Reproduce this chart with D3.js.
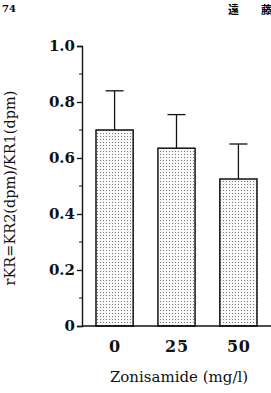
<!DOCTYPE html>
<html>
<head>
<meta charset="utf-8">
<script src="https://cdn.jsdelivr.net/npm/d3@7"></script>
<style>
  body { margin: 0; background: #fff; }
  svg { display: block; }
  text { font-family: 'DejaVu Serif', serif; }
  .tick text { font-weight: bold; font-size: 15px; fill: #111; }
  .xaxis .tick text { font-size: 16px; letter-spacing: 0.8px; }
</style>
</head>
<body>
<svg></svg>
<script>
// chart values
const doses = ['0', '25', '50']
const means = [0.70, 0.635, 0.525]
const sds = [0.14, 0.12, 0.125]
const yTicks = [0, 0.2, 0.4, 0.6, 0.8, 1.0]
const yMinor = [0.1, 0.3, 0.5, 0.7, 0.9]

const serif = "'DejaVu Serif', serif"

const svg = d3.select('svg')
  .attr('width', 271)
  .attr('height', 393)

// dotted fill for the bars
const defs = svg.append('defs')
const pat = defs.append('pattern')
  .attr('id', 'dots')
  .attr('patternUnits', 'userSpaceOnUse')
  .attr('width', 3)
  .attr('height', 3)
pat.append('rect').attr('width', 3).attr('height', 3).attr('fill', '#fafafa')
pat.append('rect').attr('x', 1).attr('y', 1).attr('width', 1).attr('height', 1).attr('fill', '#777')

const yScale = d3.scaleLinear()
  .domain([0, 1])
  .range([326, 46])

const xScale = d3.scaleBand()
  .domain(doses)
  .range([83, 270])
  .paddingInner(0.4)
  .paddingOuter(0.21)
  .align(0.5)

// bars
svg.append('g')
  .selectAll('rect')
  .data(means)
  .enter()
  .append('rect')
  .attr('x', (d, i) => xScale(doses[i]))
  .attr('y', d => yScale(d))
  .attr('width', xScale.bandwidth())
  .attr('height', d => yScale(0) - yScale(d))
  .attr('fill', 'url(#dots)')
  .attr('stroke', '#111')
  .attr('stroke-width', 1.5)

// error bars (upper side only)
const err = svg.append('g').attr('stroke', '#111').attr('stroke-width', 1.3)
means.forEach((m, i) => {
  const cx = xScale(doses[i]) + xScale.bandwidth() / 2
  err.append('line')
    .attr('x1', cx).attr('x2', cx)
    .attr('y1', yScale(m)).attr('y2', yScale(m + sds[i]))
  err.append('line')
    .attr('x1', cx - 9).attr('x2', cx + 9)
    .attr('y1', yScale(m + sds[i])).attr('y2', yScale(m + sds[i]))
})

// y axis
const yAxis = d3.axisLeft(yScale)
  .tickValues(yTicks)
  .tickFormat(d => d === 0 ? '0' : d3.format('.1f')(d))
  .tickSize(5)
  .tickPadding(2)

const yg = svg.append('g')
  .attr('transform', 'translate(82,0)')
  .call(yAxis)
  .attr('font-family', serif)
yg.select('.domain').attr('stroke', '#111').attr('stroke-width', 1.4)
yg.selectAll('.tick line').attr('stroke', '#111').attr('stroke-width', 1.3)

yg.selectAll('.minor')
  .data(yMinor)
  .enter()
  .append('line')
  .attr('class', 'minor')
  .attr('x1', -3).attr('x2', 0)
  .attr('y1', d => yScale(d)).attr('y2', d => yScale(d))
  .attr('stroke', '#111')

// x axis
const xAxis = d3.axisBottom(xScale)
  .tickSize(0)
  .tickPadding(15)

const xg = svg.append('g')
  .attr('class', 'xaxis')
  .attr('transform', 'translate(0,326)')
  .call(xAxis)
  .attr('font-family', serif)
xg.select('.domain').remove()
xg.selectAll('.tick text').attr('dx', '0.4')
xg.append('line')
  .attr('x1', 82).attr('x2', 271)
  .attr('stroke', '#111').attr('stroke-width', 1.4)

// axis titles
svg.append('text')
  .attr('x', 179)
  .attr('y', 382)
  .attr('text-anchor', 'middle')
  .attr('font-family', serif)
  .style('font-size', '15px')
  .attr('fill', '#111')
  .text('Zonisamide (mg/l)')

svg.append('text')
  .attr('transform', 'translate(15,188) rotate(-90)')
  .attr('text-anchor', 'middle')
  .attr('font-family', serif)
  .style('font-size', '14.5px')
  .attr('fill', '#111')
  .text('rKR=KR2(dpm)/KR1(dpm)')

// page header fragments
svg.append('text')
  .attr('x', 2).attr('y', 12)
  .style('font-size', '10px')
  .style('font-weight', 'bold')
  .text('74')

svg.append('text')
  .attr('x', 228).attr('y', 14)
  .style('font-family', '"Noto Sans CJK JP", sans-serif')
  .style('font-size', '11px')
  .style('font-weight', 'bold')
  .text('遠')

svg.append('text')
  .attr('x', 261).attr('y', 14)
  .style('font-family', '"Noto Sans CJK JP", sans-serif')
  .style('font-size', '11px')
  .style('font-weight', 'bold')
  .text('藤')
</script>
</body>
</html>
